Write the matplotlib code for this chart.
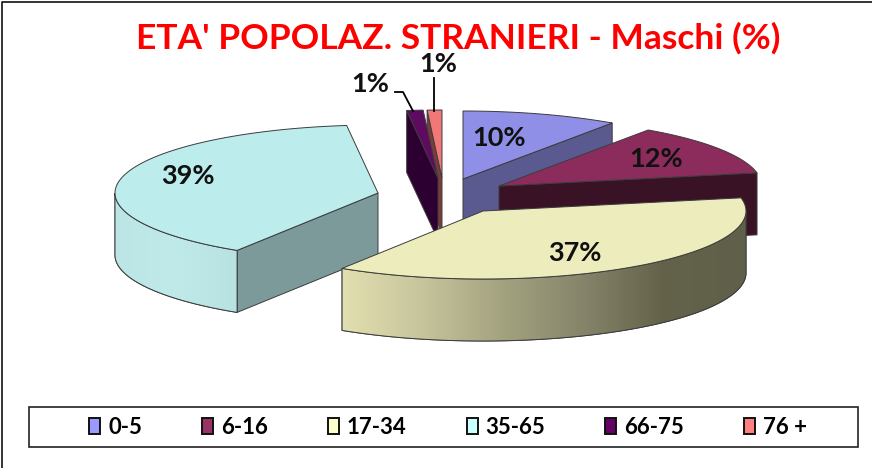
import numpy as np
import matplotlib
matplotlib.use("Agg")
import matplotlib.pyplot as plt
from matplotlib.patches import Polygon, Rectangle, Patch
from matplotlib.colors import LinearSegmentedColormap

# ---- data ----
categories = ["0-5", "6-16", "17-34", "35-65", "66-75", "76 +"]
values = [9.6, 12.3, 37.1, 39.1, 1.0, 0.9]
title = "ETA' POPOLAZ. STRANIERI - Maschi (%)"

# ---- style ----
legend_colors = ["#9999FF", "#993366", "#FFFFCC", "#CCFFFF", "#660066", "#FF8080"]
top_colors = ["#8F8FE8", "#8B2C5C", "#ECECBC", "#BCECEC", "#5E0A60", "#F07878"]
side_colors = ["#5A5A90", "#3A1226", "#8E8D70", "#7C9A9A", "#2C0030", "#7A3B3B"]
arc_gradients = {2: ["#E2DFB0", "#C6C49B", "#A3A27F", "#85846A", "#636249", "#605F4A"],
                 3: ["#BCE6E6", "#C0EAEA", "#B8E2E2"]}
# pixel position of each exploded slice's apex
slice_centers = [(463, 179), (499, 186), (483, 211), (378, 193), (438, 178), (442, 178)]
draw_order = [5, 4, 0, 1, 3, 2]
label_pos = [(499, 138), (656, 159), (575, 253), (188, 176), (370, 84), (438, 64)]
RX, RY, DEPTH = 263.0, 68.0, 62.0
EDGE = "#3c3c3c"

fig = plt.figure(figsize=(8.72, 4.68), dpi=100, facecolor="white")
ax = fig.add_axes([0, 0, 1, 1])

bounds = np.concatenate([[0], np.cumsum(values)]) / np.sum(values) * 2 * np.pi


def pt(cx, cy, a):
    return np.column_stack([cx + RX * np.sin(a), cy - RY * np.cos(a)])


for i in draw_order:
    a0, a1 = bounds[i], bounds[i + 1]
    cx, cy = slice_centers[i]
    apex = np.array([[cx, cy]], dtype=float)
    down = np.array([0, DEPTH])

    # radial cut faces that look toward the viewer
    for a, normal in ((a0, a0 - np.pi / 2), (a1, a1 + np.pi / 2)):
        if np.cos(normal) < -1e-6:
            outer = pt(cx, cy, np.array([a]))
            quad = np.vstack([apex, outer, outer + down, apex + down])
            ax.add_patch(Polygon(quad, closed=True, fc=side_colors[i], ec=EDGE, lw=0.7, zorder=1))

    # visible part of the outer rim
    lo, hi = max(a0, np.pi / 2), min(a1, 3 * np.pi / 2)
    if hi > lo:
        t = np.linspace(lo, hi, 80)
        upper = pt(cx, cy, t)
        rim = np.vstack([upper, (upper + down)[::-1]])
        poly = Polygon(rim, closed=True, fc=side_colors[i], ec=EDGE, lw=0.7, zorder=1)
        ax.add_patch(poly)
        if i in arc_gradients:
            cmap = LinearSegmentedColormap.from_list("g", arc_gradients[i])
            im = ax.imshow(np.linspace(0, 1, 256)[None, :], cmap=cmap, aspect="auto",
                           extent=(rim[:, 0].min(), rim[:, 0].max(), rim[:, 1].max(), rim[:, 1].min()),
                           zorder=1)
            im.set_clip_path(poly)
            ax.add_patch(Polygon(rim, closed=True, fill=False, ec=EDGE, lw=0.7, zorder=1))

    # top face
    t = np.linspace(a0, a1, 80)
    ax.add_patch(Polygon(np.vstack([apex, pt(cx, cy, t)]), closed=True,
                         fc=top_colors[i], ec=EDGE, lw=0.7, zorder=1))

# percentage labels
for v, (x, y) in zip(values, label_pos):
    ax.text(x, y, f"{round(v)}%", ha="center", va="center", fontsize=19.5,
            fontweight="bold", family="Lato", color="#111111", zorder=3)

# leader lines for the two small slices
ax.plot([395, 403, 413], [92, 92, 111], color="black", lw=1.3, zorder=2)
ax.plot([434, 434], [78, 111], color="black", lw=1.3, zorder=2)

ax.text(458, 38, title, ha="center", va="center", color="#FF0000", fontsize=25.5,
        fontweight="bold", family="Lato", zorder=3)

# legend box
ax.add_patch(Rectangle((29, 407), 829, 40, fc="white", ec="#222222", lw=1.2, zorder=1))
handles = [Patch(fc=c, ec="#111111", lw=1.4) for c in legend_colors]
leg = ax.legend(handles, categories, ncols=6, loc="center", bbox_to_anchor=(448 / 872, 1 - 427 / 468),
                frameon=False, handlelength=0.5, handleheight=0.75, handletextpad=0.35,
                columnspacing=2.7, prop={"family": "Lato", "weight": "bold", "size": 16})

# outer chart frame (top and left only are visible)
ax.plot([2, 2, 872], [468, 2, 2], color="#111111", lw=1.2, zorder=1)

ax.set_xlim(0, 872)
ax.set_ylim(468, 0)
ax.axis("off")
fig.savefig("out.png", dpi=100, facecolor="white")
